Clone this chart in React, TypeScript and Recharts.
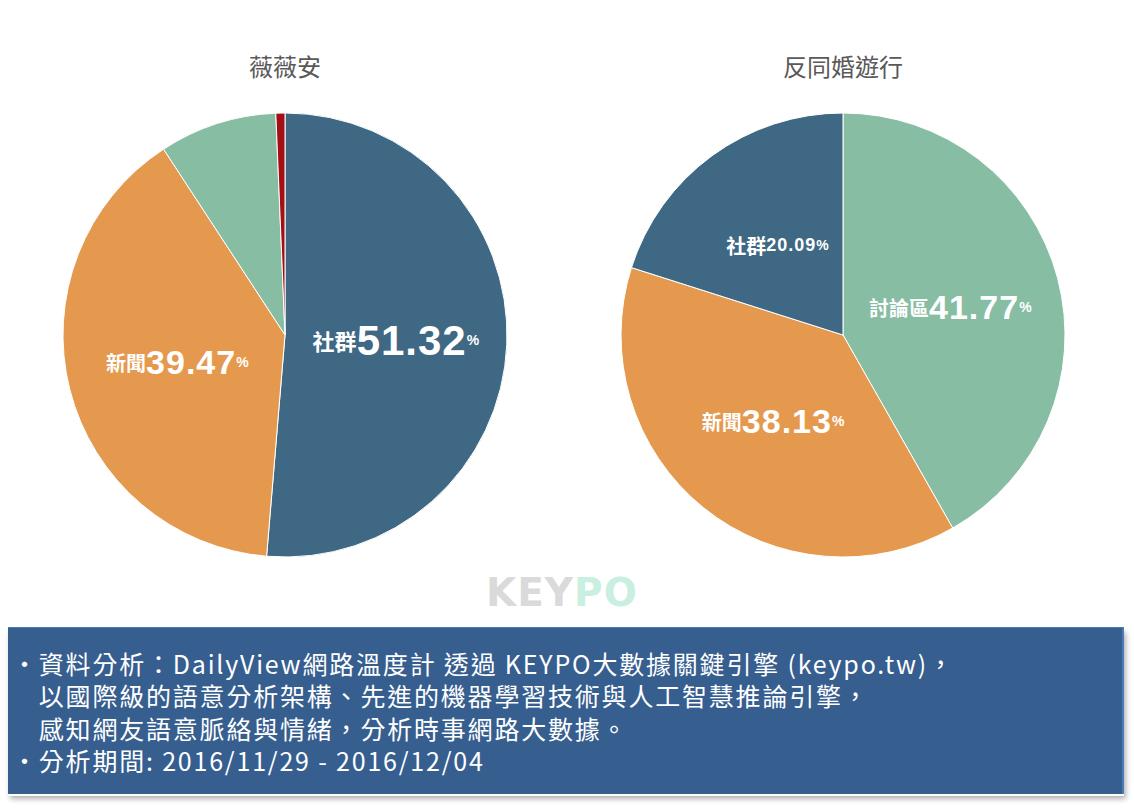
import { PieChart, Pie, Cell } from "recharts";

const leftTitle = "薇薇安";
const leftNames = ["社群", "新聞", "討論區", "其他"];
const leftValues = [51.32, 39.47, 8.55, 0.66];
const leftShowLabel = [true, true, false, false];

const rightTitle = "反同婚遊行";
const rightNames = ["討論區", "新聞", "社群"];
const rightValues = [41.77, 38.13, 20.09];

const notes = [
  "・資料分析：DailyView網路溫度計 透過 KEYPO大數據關鍵引擎 (keypo.tw)，",
  "　以國際級的語意分析架構、先進的機器學習技術與人工智慧推論引擎，",
  "　感知網友語意脈絡與情緒，分析時事網路大數據。",
  "・分析期間: 2016/11/29 - 2016/12/04",
];

const COLORS: Record<string, string> = {
  社群: "#3e6883",
  新聞: "#e5994e",
  討論區: "#87bda2",
  其他: "#a30f14",
};

const leftData = leftNames.map((name, i) => ({ name, value: leftValues[i], show: leftShowLabel[i] }));
const rightData = rightNames.map((name, i) => ({ name, value: rightValues[i], show: true }));

const RAD = Math.PI / 180;

// big slices get the big numbers
const numSize = (v: number) => (v > 50 ? 42 : v > 30 ? 34 : 18);
const nameSize = (v: number) => (v > 50 ? 22 : 20);

const renderLabel = (props: any) => {
  const { cx, cy, midAngle, outerRadius, payload, value } = props;
  if (!payload?.show) return null;
  const r = outerRadius * 0.5;
  const x = cx + r * Math.cos(-midAngle * RAD);
  const y = cy + r * Math.sin(-midAngle * RAD);
  return (
    <text
      x={x}
      y={y}
      textAnchor="middle"
      dominantBaseline="central"
      fill="#fff"
      fontWeight="bold"
      fontFamily="'Liberation Sans', Arial, 'Noto Sans CJK TC', sans-serif"
    >
      <tspan fontSize={nameSize(value)} fontFamily="'Noto Sans CJK TC', sans-serif">
        {payload.name}
      </tspan>
      <tspan fontSize={numSize(value)} letterSpacing={1}>
        {value.toFixed(2)}
      </tspan>
      <tspan fontSize={14}>%</tspan>
    </text>
  );
};

export default function App() {
  return (
    <div
      style={{
        position: "absolute",
        left: 0,
        top: 0,
        width: 1134,
        height: 810,
        background: "#fff",
        fontFamily: "'Noto Sans CJK TC', sans-serif",
      }}
    >
      {/* titles */}
      <div style={{ position: "absolute", left: 185, width: 200, top: 48, textAlign: "center", fontSize: 24, color: "#595959" }}>
        {leftTitle}
      </div>
      <div style={{ position: "absolute", left: 743, width: 200, top: 48, textAlign: "center", fontSize: 24, color: "#595959" }}>
        {rightTitle}
      </div>

      <div style={{ position: "absolute", left: 0, top: 0 }}>
        <PieChart width={1134} height={600} margin={{ top: 0, right: 0, bottom: 0, left: 0 }}>
          <Pie
            data={leftData}
            dataKey="value"
            cx={285}
            cy={335}
            outerRadius={222}
            startAngle={90}
            endAngle={-270}
            stroke="#fff"
            strokeWidth={1}
            label={renderLabel}
            labelLine={false}
            isAnimationActive={false}
          >
            {leftData.map((d) => (
              <Cell key={d.name} fill={COLORS[d.name]} />
            ))}
          </Pie>
          <Pie
            data={rightData}
            dataKey="value"
            cx={843}
            cy={335}
            outerRadius={222}
            startAngle={90}
            endAngle={-270}
            stroke="#fff"
            strokeWidth={1}
            label={renderLabel}
            labelLine={false}
            isAnimationActive={false}
          >
            {rightData.map((d) => (
              <Cell key={d.name} fill={COLORS[d.name]} />
            ))}
          </Pie>
        </PieChart>
      </div>

      {/* KEYPO mark */}
      <div
        style={{
          position: "absolute",
          left: 486,
          top: 570,
          fontFamily: "'DejaVu Sans', sans-serif",
          fontWeight: "bold",
          fontSize: 39,
          letterSpacing: 1,
        }}
      >
        <span style={{ color: "#dadada" }}>KEY</span>
        <span style={{ color: "#c9efe0" }}>PO</span>
      </div>

      {/* note box */}
      <div
        style={{
          position: "absolute",
          left: 8,
          top: 627,
          width: 1116,
          height: 167,
          background: "#365e8f",
          borderRight: "2px solid #4a7ab8",
          borderTop: "1px solid #4a7ab8",
          boxShadow: "0 2px 0 #fff, 2px 5px 5px rgba(0,0,0,0.3)",
          color: "#fff",
          fontSize: 25,
          letterSpacing: 1.8,
          lineHeight: "32.3px",
          padding: "19px 0 0 4px",
          boxSizing: "border-box",
          whiteSpace: "pre",
        }}
      >
        {notes.map((n) => (
          <div key={n}>{n}</div>
        ))}
      </div>
    </div>
  );
}
